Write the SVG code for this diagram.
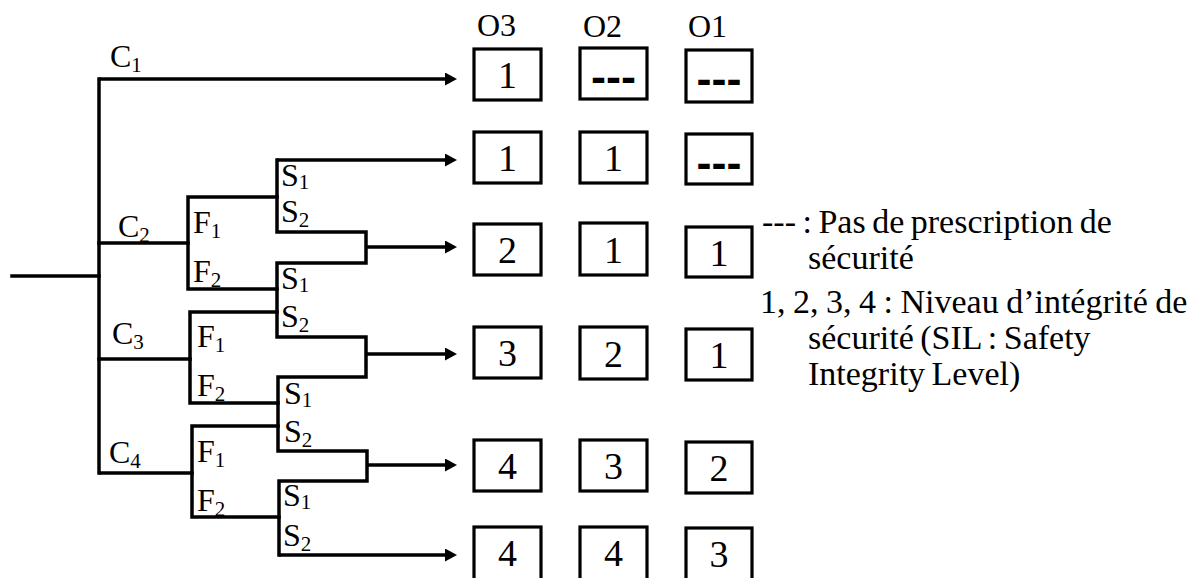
<svg xmlns="http://www.w3.org/2000/svg" width="1202" height="578" viewBox="0 0 1202 578">
<style>
.ln{fill:none;stroke:#000;stroke-width:3.5;stroke-linecap:square;stroke-linejoin:miter}
.ar{fill:none;stroke:#000;stroke-width:3.5;marker-end:url(#ah)}
.box{fill:#fff;stroke:#000;stroke-width:3.2}
.t{font-family:"Liberation Serif","Times New Roman",serif;font-size:32px;fill:#000}
.sub{font-size:21px}
.d{font-family:"Liberation Serif","Times New Roman",serif;font-size:38px;fill:#000;text-anchor:middle}
.dash{font-family:"Liberation Sans",Arial,sans-serif;font-weight:bold;font-size:45px;fill:#000;text-anchor:middle}
.lg{font-family:"Liberation Serif","Times New Roman",serif;font-size:34px;fill:#000}
</style>
<defs>
<marker id="ah" markerWidth="13" markerHeight="13" refX="1" refY="6.5" orient="auto" markerUnits="userSpaceOnUse">
<path d="M0,0 L12,6.5 L0,13 z" fill="#000"/>
</marker>
</defs>
<rect width="1202" height="578" fill="#fff"/>
<g id="connectors">
<path class="ln" d="M12,276 H99"/>
<path class="ln" d="M99,79 V473"/>
<path class="ar" d="M99,79 H446"/>
<path class="ln" d="M99,243 H188"/>
<path class="ln" d="M99,359 H190"/>
<path class="ln" d="M101,473 H192"/>
<path class="ln" d="M277,197 H188 V289 H277"/>
<path class="ln" d="M277,312 H190 V403 H278"/>
<path class="ln" d="M278,426 H192 V517 H279"/>
<path class="ln" d="M277,160 V232 H366 V263 H277 V337 H366 V377 H278 V451 H367 V481 H279 V555"/>
<path class="ar" d="M277,160 H446"/>
<path class="ar" d="M366,247 H446"/>
<path class="ar" d="M366,354 H446"/>
<path class="ar" d="M367,465 H446"/>
<path class="ar" d="M279,555 H446"/>
</g>
<g id="labels-C">
<text class="t" x="110" y="67">C<tspan class="sub" dy="5">1</tspan></text>
<text class="t" x="118" y="237">C<tspan class="sub" dy="5">2</tspan></text>
<text class="t" x="112" y="344">C<tspan class="sub" dy="5">3</tspan></text>
<text class="t" x="109" y="463">C<tspan class="sub" dy="5">4</tspan></text>
</g>
<g id="labels-F">
<text class="t" x="193" y="233">F<tspan class="sub" dy="5">1</tspan></text>
<text class="t" x="193" y="282">F<tspan class="sub" dy="5">2</tspan></text>
<text class="t" x="197" y="347">F<tspan class="sub" dy="5">1</tspan></text>
<text class="t" x="197" y="396">F<tspan class="sub" dy="5">2</tspan></text>
<text class="t" x="197" y="462">F<tspan class="sub" dy="5">1</tspan></text>
<text class="t" x="197" y="511">F<tspan class="sub" dy="5">2</tspan></text>
</g>
<g id="labels-S">
<text class="t" x="281" y="186">S<tspan class="sub" dy="3">1</tspan></text>
<text class="t" x="281" y="222">S<tspan class="sub" dy="5">2</tspan></text>
<text class="t" x="281" y="289">S<tspan class="sub" dy="3">1</tspan></text>
<text class="t" x="281" y="327">S<tspan class="sub" dy="5">2</tspan></text>
<text class="t" x="284" y="404">S<tspan class="sub" dy="3">1</tspan></text>
<text class="t" x="284" y="442">S<tspan class="sub" dy="5">2</tspan></text>
<text class="t" x="283" y="506">S<tspan class="sub" dy="3">1</tspan></text>
<text class="t" x="283" y="546">S<tspan class="sub" dy="5">2</tspan></text>
</g>
<g id="headers">
<text class="t" x="477" y="36">O3</text>
<text class="t" x="583" y="37">O2</text>
<text class="t" x="688" y="37">O1</text>
</g>
<g id="col-O3">
<rect class="box" x="474" y="49" width="67" height="51"/><text class="d" x="507.5" y="88">1</text>
<rect class="box" x="474" y="132" width="67" height="51"/><text class="d" x="507.5" y="171">1</text>
<rect class="box" x="474" y="224" width="67" height="51"/><text class="d" x="507.5" y="263">2</text>
<rect class="box" x="474" y="327" width="67" height="51"/><text class="d" x="507.5" y="366">3</text>
<rect class="box" x="474" y="440" width="67" height="51"/><text class="d" x="507.5" y="479">4</text>
<rect class="box" x="474" y="527" width="67" height="60"/><text class="d" x="507.5" y="566">4</text>
</g>
<g id="col-O2">
<rect class="box" x="580" y="48" width="67" height="51"/><text class="dash" x="613.5" y="92">---</text>
<rect class="box" x="580" y="132" width="67" height="51"/><text class="d" x="613.5" y="171">1</text>
<rect class="box" x="580" y="223" width="67" height="52"/><text class="d" x="613.5" y="262.5">1</text>
<rect class="box" x="580" y="327" width="67" height="52"/><text class="d" x="613.5" y="366.5">2</text>
<rect class="box" x="580" y="440" width="67" height="51"/><text class="d" x="613.5" y="479">3</text>
<rect class="box" x="580" y="527" width="67" height="60"/><text class="d" x="613.5" y="566">4</text>
</g>
<g id="col-O1">
<rect class="box" x="686" y="50" width="66" height="52"/><text class="dash" x="719" y="94">---</text>
<rect class="box" x="686" y="134" width="66" height="50"/><text class="dash" x="719" y="178">---</text>
<rect class="box" x="686" y="227" width="66" height="50"/><text class="d" x="719" y="265.5">1</text>
<rect class="box" x="686" y="329" width="66" height="51"/><text class="d" x="719" y="368">1</text>
<rect class="box" x="686" y="442" width="66" height="51"/><text class="d" x="719" y="481">2</text>
<rect class="box" x="686" y="528" width="66" height="60"/><text class="d" x="719" y="567">3</text>
</g>
<g id="legend">
<text class="lg" x="762" y="233" word-spacing="-2">--- : Pas de prescription de</text>
<text class="lg" x="808" y="269">sécurité</text>
<text class="lg" x="760" y="313" word-spacing="-1">1, 2, 3, 4 : Niveau d’intégrité de</text>
<text class="lg" x="808" y="349" word-spacing="-2">sécurité (SIL : Safety</text>
<text class="lg" x="808" y="385" word-spacing="-2">Integrity Level)</text>
</g>
</svg>
